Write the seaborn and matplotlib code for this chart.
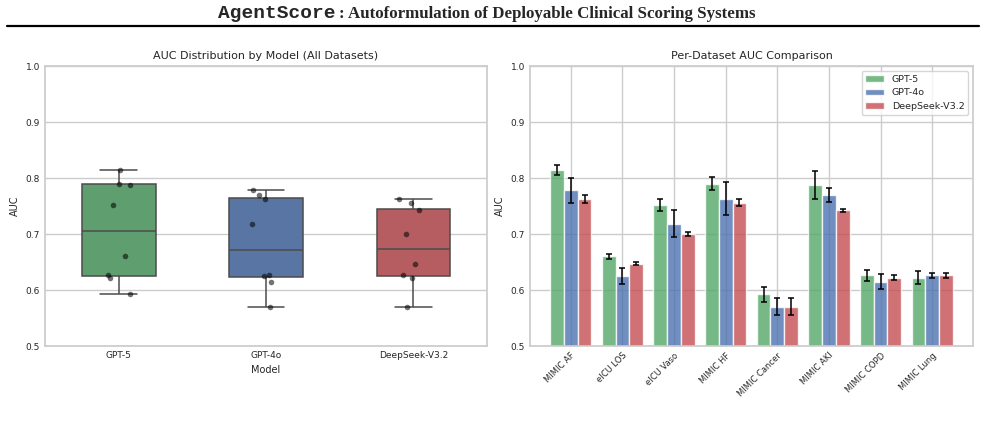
import numpy as np
import pandas as pd
import matplotlib
matplotlib.use('Agg')
import matplotlib.pyplot as plt
from matplotlib.lines import Line2D
import seaborn as sns

sns.set_theme(style='whitegrid')

# data
datasets = ['MIMIC AF', 'eICU LOS', 'eICU Vaso', 'MIMIC HF',
            'MIMIC Cancer', 'MIMIC AKI', 'MIMIC COPD', 'MIMIC Lung']
models = ['GPT-5', 'GPT-4o', 'DeepSeek-V3.2']

gpt5_auc = [0.814, 0.660, 0.752, 0.790, 0.592, 0.788, 0.626, 0.622]
gpt4o_auc = [0.778, 0.625, 0.718, 0.763, 0.570, 0.770, 0.615, 0.626]
deepseek_auc = [0.763, 0.647, 0.700, 0.756, 0.570, 0.742, 0.622, 0.626]

gpt5_err = [0.009, 0.005, 0.011, 0.012, 0.013, 0.025, 0.010, 0.012]
gpt4o_err = [0.022, 0.014, 0.024, 0.029, 0.015, 0.013, 0.014, 0.004]
deepseek_err = [0.007, 0.003, 0.003, 0.006, 0.015, 0.003, 0.004, 0.004]

colors = ['#55A868', '#4C72B0', '#C44E52']

auc = [gpt5_auc, gpt4o_auc, deepseek_auc]
err = [gpt5_err, gpt4o_err, deepseek_err]
df = pd.DataFrame({
    'Dataset': datasets * 3,
    'Model': [m for m in models for _ in datasets],
    'AUC': sum(auc, []),
    'err': sum(err, []),
})

fig = plt.figure(figsize=(9.85, 4.22), dpi=100)
ax1 = fig.add_axes([45 / 985, 76 / 422, 442 / 985, 280 / 422])
ax2 = fig.add_axes([530 / 985, 76 / 422, 443 / 985, 280 / 422])

# left: box + strip
np.random.seed(3)
sns.boxplot(data=df, x='Model', y='AUC', hue='Model', palette=colors,
            width=0.5, showfliers=False, linewidth=1.1, ax=ax1, legend=False)
sns.stripplot(data=df, x='Model', y='AUC', color='black', alpha=0.55,
              size=4, jitter=0.1, ax=ax1)
ax1.set_ylim(0.5, 1.0)
ax1.set_yticks(np.arange(0.5, 1.01, 0.1))
ax1.set_title('AUC Distribution by Model (All Datasets)', fontsize=8, pad=5)
ax1.set_xlabel('Model', fontsize=7, labelpad=3.5)
ax1.set_ylabel('AUC', fontsize=7, labelpad=4)
ax1.tick_params(labelsize=6.5, length=0, pad=3.5)

# right: grouped bars with error bars
sns.barplot(data=df, x='Dataset', y='AUC', hue='Model', palette=colors,
            saturation=1, alpha=0.8, edgecolor='white', linewidth=1,
            errorbar=None, width=0.8, ax=ax2)
for cont, e in zip(ax2.containers, err):
    xs = [p.get_x() + p.get_width() / 2 for p in cont]
    ys = [p.get_height() for p in cont]
    ax2.errorbar(xs, ys, yerr=e, fmt='none', ecolor='black',
                 elinewidth=1.1, capsize=2.5, capthick=1.1)
ax2.set_xlim(-0.79, 7.79)
ax2.set_ylim(0.5, 1.0)
ax2.set_yticks(np.arange(0.5, 1.01, 0.1))
ax2.xaxis.grid(True)
ax2.set_axisbelow(True)
ax2.set_title('Per-Dataset AUC Comparison', fontsize=8, pad=5)
ax2.set_xlabel('')
ax2.set_ylabel('AUC', fontsize=7, labelpad=4)
ax2.tick_params(labelsize=6.5, length=0, pad=3.5)
plt.setp(ax2.get_xticklabels(), rotation=45, ha='right',
         rotation_mode='anchor', fontsize=6)
ax2.legend(loc='upper right', fontsize=6.8, frameon=True, framealpha=0.8)

# header
fig.text(218 / 985, 1 - 18.5 / 422, 'AgentScore', family='Liberation Mono',
         weight='bold', fontsize=14, ha='left', va='baseline')
fig.text(339 / 985, 1 - 18.5 / 422,
         ': Autoformulation of Deployable Clinical Scoring Systems',
         family='Liberation Serif', weight='bold', fontsize=12.2,
         ha='left', va='baseline')
fig.add_artist(Line2D([7 / 985, 979 / 985], [1 - 25.7 / 422] * 2,
                      transform=fig.transFigure, color='black', lw=1.6))

fig.savefig('out.png', dpi=100)
